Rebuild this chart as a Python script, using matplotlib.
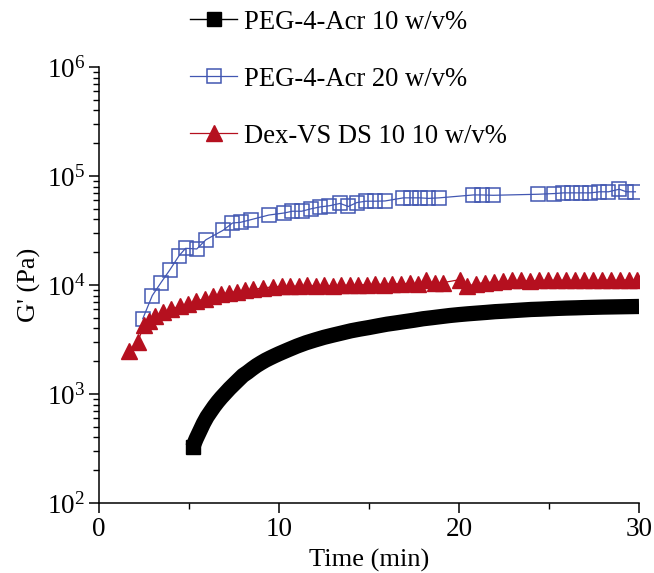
import matplotlib
matplotlib.use("Agg")
import matplotlib.pyplot as plt
from matplotlib.lines import Line2D
from matplotlib.ticker import LogLocator, MultipleLocator

plt.rcParams['font.family'] = ['Liberation Serif', 'DejaVu Serif']
plt.rcParams['mathtext.fontset'] = 'custom'
plt.rcParams['mathtext.rm'] = 'Liberation Serif'
plt.rcParams['mathtext.it'] = 'Liberation Serif:italic'

# PEG-4-Acr 10 w/v% (dense measurement, shows up as a thick band)
t_peg10 = [5.2, 5.4, 5.6, 5.8, 6.0, 6.2, 6.4, 6.6, 6.8, 7.0,
           7.25, 7.5, 7.75, 8.0, 8.25, 8.5, 8.75, 9.0, 9.25, 9.5, 9.75, 10.0,
           10.5, 11.0, 11.5, 12.0, 12.5, 13.0, 13.5, 14.0, 14.5, 15.0,
           15.5, 16.0, 16.5, 17.0, 17.5, 18.0, 18.5, 19.0, 19.5, 20.0,
           20.5, 21.0, 21.5, 22.0, 22.5, 23.0, 23.5, 24.0, 24.5, 25.0,
           25.5, 26.0, 26.5, 27.0, 27.5, 28.0, 28.5, 29.0, 29.5, 30.0]
g_peg10 = [324, 389, 457, 537, 617, 690, 770, 850, 930, 1010,
           1120, 1230, 1350, 1480, 1580, 1700, 1820, 1930, 2040, 2140, 2240, 2340,
           2540, 2750, 2950, 3130, 3310, 3470, 3630, 3800, 3940, 4070,
           4220, 4370, 4490, 4620, 4750, 4900, 5010, 5130, 5250, 5350,
           5440, 5520, 5600, 5690, 5750, 5820, 5890, 5960, 6000, 6050,
           6100, 6140, 6170, 6210, 6240, 6270, 6290, 6310, 6330, 6350]

# PEG-4-Acr 20 w/v%
t_peg20 = [2.43, 2.96, 3.44, 3.94, 4.44, 4.81, 5.43, 5.94, 6.9, 7.41,
           7.87, 8.43, 9.43, 10.3, 10.74, 11.26, 11.78, 12.28, 12.8, 13.39,
           13.85, 14.32, 14.82, 15.33, 15.89, 16.91, 17.33, 17.83, 18.3, 18.9,
           20.8, 21.26, 21.9, 24.4, 25.3, 25.8, 26.3, 26.8, 27.3, 27.8,
           28.3, 28.9, 29.3, 29.8]
g_peg20 = [4900, 8000, 10500, 13800, 18500, 21700, 21400, 26000, 31800, 37000,
           37600, 39700, 43800, 45800, 47500, 47500, 50000, 52000, 53300, 56000,
           52500, 57000, 58700, 58700, 59000, 63000, 63000, 63000, 62300, 63000,
           67000, 67000, 66500, 68000, 69000, 70000, 70000, 70000, 70000, 71600,
           71600, 75600, 71600, 71600]

# Dex-VS DS 10 10 w/v%
t_dex = [1.65, 2.15, 2.5, 2.8, 3.1, 3.55, 4.0, 4.5, 4.95, 5.4,
         5.9, 6.35, 6.75, 7.2, 7.65, 8.1, 8.55, 9.1, 9.65, 10.15,
         10.6, 11.1, 11.55, 12.05, 12.5, 13.0, 13.45, 13.95, 14.4, 14.9,
         15.35, 15.85, 16.3, 16.8, 17.25, 17.7, 18.15, 18.65, 19.1, 20.05,
         20.45, 20.95, 21.45, 21.95, 22.45, 22.95, 23.45, 23.95, 24.45, 24.95,
         25.45, 25.95, 26.45, 26.95, 27.45, 27.95, 28.45, 28.95, 29.45, 29.9]
g_dex = [2500, 3000, 4300, 4700, 5200, 5600, 6000, 6400, 6750, 7100,
         7500, 7900, 8200, 8500, 8700, 9000, 9100, 9400, 9600, 9700,
         9800, 9700, 9900, 9800, 9900, 9800, 10000, 9900, 10100, 10000,
         10200, 10100, 10300, 10200, 10400, 10200, 11000, 10400, 10500, 11200,
         9700, 10300, 10500, 10700, 10800, 11000, 11000, 10900, 11000, 11100,
         11000, 11100, 11000, 11100, 11000, 11100, 11100, 11000, 11200, 11100]

labels = ['PEG-4-Acr 10 w/v%', 'PEG-4-Acr 20 w/v%', 'Dex-VS DS 10 10 w/v%']
blue = '#4257b2'
red = '#b5101f'

fig = plt.figure(figsize=(6.54, 5.73), dpi=100)
ax = fig.add_axes([0.1514, 0.1222, 0.8257, 0.7609])

# markers are packed so tightly they merge into one band -> thick line,
# only the first square shown so the start keeps its square corner
ax.plot(t_peg10, g_peg10, color='black', lw=11, solid_capstyle='butt',
        solid_joinstyle='round', marker='s', ms=10.5, markevery=[0],
        mfc='black', mec='black')
ax.plot(t_peg20, g_peg20, color=blue, lw=0.9, marker='s', ms=10,
        mfc='none', mec=blue, mew=1.1)
ax.plot(t_dex, g_dex, color=red, lw=0.9, marker='^', ms=12,
        mfc=red, mec=red)

ax.set_yscale('log')
ax.set_xlim(0, 30)
ax.set_ylim(1e2, 1e6)
ax.xaxis.set_major_locator(MultipleLocator(10))
ax.xaxis.set_minor_locator(MultipleLocator(5))
ax.yaxis.set_major_locator(LogLocator(base=10, numticks=10))
ax.yaxis.set_minor_locator(LogLocator(base=10, subs=range(2, 10), numticks=10))

for s in ['top', 'right']:
    ax.spines[s].set_visible(False)
for s in ['left', 'bottom']:
    ax.spines[s].set_linewidth(1.1)

ax.tick_params(which='major', direction='out', length=7, width=1.1, labelsize=19.5)
ax.tick_params(which='minor', direction='out', length=4, width=1.0)
ax.tick_params(axis='x', pad=3)
ax.tick_params(axis='y', pad=3)

ax.set_xlabel('Time (min)', fontsize=19, labelpad=5)
ax.set_ylabel("G' (Pa)", fontsize=19, labelpad=4)

handles = [
    Line2D([], [], color='black', lw=1, marker='s', ms=10, mfc='black', mec='black'),
    Line2D([], [], color=blue, lw=0.9, marker='s', ms=10, mfc='none', mec=blue, mew=1.1),
    Line2D([], [], color=red, lw=0.9, marker='^', ms=11.5, mfc=red, mec=red),
]
fig.legend(handles, labels, loc='upper left', bbox_to_anchor=(0.287, 0.988),
           frameon=False, fontsize=19.2, handlelength=1.75, handletextpad=0.25,
           labelspacing=1.2, borderpad=0.1, borderaxespad=0)

fig.savefig('out.png', dpi=100)
